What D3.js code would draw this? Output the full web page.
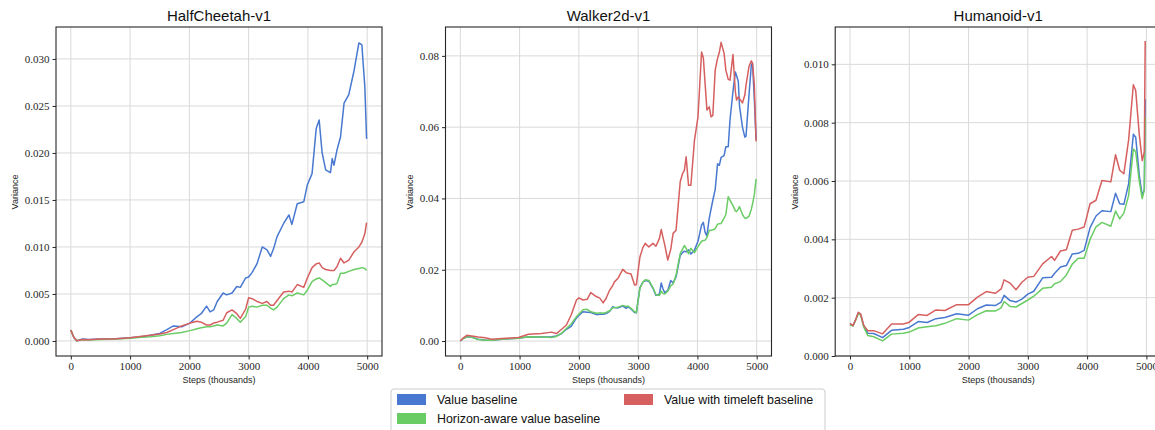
<!DOCTYPE html>
<html>
<head>
<meta charset="utf-8">
<script src="https://cdn.jsdelivr.net/npm/d3@7"></script>
<style>
  html, body { margin: 0; padding: 0; background: #fff; }
  svg { display: block; }
</style>
</head>
<body>
<svg id="chart" width="1155" height="430"></svg>
<script>
// ---------------- DATA ----------------
const seriesNames = ["Value baseline", "Horizon-aware value baseline", "Value with timeleft baseline"];
const seriesColors = ["#4878d0", "#6acc64", "#d65f5f"];
const panelTitles = ["HalfCheetah-v1", "Walker2d-v1", "Humanoid-v1"];
const xTicks = [0, 1000, 2000, 3000, 4000, 5000];
const xLabel = "Steps (thousands)";
const yLabel = "Variance";

// HalfCheetah-v1
const hcSteps = [0, 50, 100, 200, 300, 500, 700, 1000, 1200, 1340, 1500, 1620, 1730, 1870, 2010, 2130, 2200, 2290, 2350, 2410, 2470, 2570, 2630, 2720, 2800, 2860, 2950, 3000, 3060, 3140, 3230, 3310, 3370, 3420, 3480, 3590, 3680, 3730, 3820, 3930, 3990, 4070, 4140, 4190, 4240, 4300, 4380, 4410, 4440, 4490, 4550, 4610, 4690, 4780, 4860, 4910, 4960, 4990];
const hcValue = [0.00115, 0.0004, 0.00002, 0.0002, 0.00015, 0.0002, 0.00022, 0.00035, 0.00045, 0.0006, 0.0008, 0.0012, 0.0016, 0.0015, 0.0019, 0.0026, 0.0029, 0.0037, 0.0031, 0.0033, 0.0042, 0.0051, 0.0049, 0.0051, 0.0058, 0.0057, 0.0067, 0.0068, 0.0073, 0.0082, 0.0100, 0.0097, 0.0090, 0.0098, 0.0111, 0.0125, 0.0134, 0.0124, 0.0146, 0.0148, 0.0166, 0.0178, 0.0226, 0.0235, 0.0200, 0.0182, 0.0179, 0.0194, 0.0187, 0.0203, 0.0217, 0.0253, 0.0262, 0.0288, 0.0317, 0.0315, 0.0271, 0.0215];
const hcHorizon = [0.00115, 0.0004, 0.00002, 0.00012, 0.0001, 0.00015, 0.00018, 0.0003, 0.0004, 0.00045, 0.00055, 0.0007, 0.0008, 0.0009, 0.0011, 0.0013, 0.0014, 0.0015, 0.0015, 0.0016, 0.0017, 0.0016, 0.0019, 0.0028, 0.0024, 0.0020, 0.0026, 0.0036, 0.0037, 0.0036, 0.0038, 0.0038, 0.0035, 0.0033, 0.0036, 0.0045, 0.0049, 0.0048, 0.0051, 0.0049, 0.0054, 0.0063, 0.0066, 0.0067, 0.0065, 0.0062, 0.0058, 0.0060, 0.0060, 0.0061, 0.0072, 0.0072, 0.0074, 0.0076, 0.0077, 0.0078, 0.0077, 0.0075];
const hcTimeleft = [0.00115, 0.0004, 0.00002, 0.00015, 0.00012, 0.0002, 0.0002, 0.00033, 0.0005, 0.0006, 0.00075, 0.0009, 0.0012, 0.0016, 0.0019, 0.0021, 0.0020, 0.0017, 0.0017, 0.0019, 0.0020, 0.0022, 0.0030, 0.0033, 0.0029, 0.0024, 0.0034, 0.0046, 0.0045, 0.0042, 0.0040, 0.0042, 0.0038, 0.0038, 0.0043, 0.0052, 0.0053, 0.0052, 0.0060, 0.0057, 0.0067, 0.0078, 0.0082, 0.0083, 0.0078, 0.0076, 0.0075, 0.0075, 0.0075, 0.0079, 0.0088, 0.0083, 0.0086, 0.0095, 0.0100, 0.0105, 0.0114, 0.0126];
const hcYTicks = [0, 0.005, 0.010, 0.015, 0.020, 0.025, 0.030];

// Walker2d-v1
const wkSteps = [0, 50, 110, 190, 300, 420, 530, 700, 980, 1150, 1370, 1540, 1620, 1710, 1790, 1870, 1960, 2000, 2070, 2140, 2200, 2300, 2350, 2410, 2460, 2520, 2570, 2600, 2660, 2740, 2800, 2830, 2880, 2940, 2970, 3030, 3080, 3120, 3180, 3250, 3300, 3360, 3390, 3420, 3450, 3500, 3550, 3590, 3640, 3710, 3750, 3780, 3810, 3850, 3890, 3950, 4010, 4070, 4100, 4130, 4160, 4200, 4230, 4260, 4300, 4340, 4370, 4400, 4450, 4480, 4520, 4550, 4600, 4640, 4660, 4690, 4710, 4760, 4800, 4820, 4870, 4910, 4930, 4960, 4990];
const wkValue = [0, 0.0007, 0.0012, 0.0011, 0.0005, 0.0003, 0.0002, 0.0005, 0.0008, 0.0012, 0.0011, 0.0012, 0.0014, 0.0021, 0.0033, 0.0041, 0.0065, 0.0072, 0.0082, 0.0081, 0.0080, 0.0074, 0.0075, 0.0075, 0.0077, 0.0083, 0.0096, 0.0094, 0.0093, 0.0098, 0.0092, 0.0096, 0.0090, 0.0080, 0.0079, 0.0150, 0.0165, 0.0170, 0.0168, 0.0148, 0.0128, 0.0132, 0.0163, 0.0146, 0.0135, 0.0142, 0.0170, 0.0163, 0.0180, 0.0240, 0.0248, 0.0252, 0.0250, 0.0256, 0.0244, 0.0255, 0.0280, 0.0325, 0.0333, 0.0305, 0.0295, 0.0345, 0.0370, 0.0395, 0.0425, 0.0497, 0.0493, 0.0515, 0.0520, 0.0545, 0.0545, 0.0620, 0.0700, 0.0755, 0.0745, 0.0728, 0.0660, 0.0600, 0.0572, 0.0575, 0.0690, 0.0775, 0.0779, 0.0680, 0.0565];
const wkHorizon = [0, 0.0007, 0.0011, 0.0011, 0.0004, 0.0002, 0.0002, 0.0005, 0.0008, 0.0012, 0.0011, 0.0010, 0.0013, 0.0022, 0.0035, 0.0048, 0.0068, 0.0075, 0.0088, 0.0089, 0.0082, 0.0078, 0.0079, 0.0078, 0.0080, 0.0085, 0.0093, 0.0094, 0.0095, 0.0100, 0.0097, 0.0098, 0.0092, 0.0082, 0.0080, 0.0148, 0.0165, 0.0172, 0.0170, 0.0150, 0.0130, 0.0128, 0.0140, 0.0133, 0.0132, 0.0140, 0.0155, 0.0160, 0.0185, 0.0245, 0.0258, 0.0268, 0.0260, 0.0245, 0.0260, 0.0248, 0.0265, 0.0280, 0.0282, 0.0283, 0.0290, 0.0310, 0.0311, 0.0312, 0.0315, 0.0328, 0.0329, 0.0330, 0.0345, 0.0355, 0.0405, 0.0395, 0.0380, 0.0365, 0.0363, 0.0370, 0.0377, 0.0355, 0.0345, 0.0344, 0.0350, 0.0370, 0.0385, 0.0410, 0.0455];
const wkTimeleft = [0, 0.0009, 0.0016, 0.0014, 0.0011, 0.0009, 0.0005, 0.0007, 0.0010, 0.0019, 0.0021, 0.0025, 0.0021, 0.0033, 0.0045, 0.0073, 0.0115, 0.0121, 0.0115, 0.0117, 0.0136, 0.0124, 0.0121, 0.0107, 0.0120, 0.0143, 0.0155, 0.0166, 0.0176, 0.0201, 0.0192, 0.0190, 0.0188, 0.0157, 0.0158, 0.0236, 0.0262, 0.0274, 0.0264, 0.0274, 0.0266, 0.0288, 0.0313, 0.0290, 0.0269, 0.0227, 0.0257, 0.0302, 0.0311, 0.0447, 0.0470, 0.0479, 0.0517, 0.0437, 0.0437, 0.0563, 0.0629, 0.0811, 0.0795, 0.0722, 0.0648, 0.0657, 0.0629, 0.0633, 0.0760, 0.0793, 0.0810, 0.0838, 0.0807, 0.0760, 0.0734, 0.0732, 0.0804, 0.0700, 0.0676, 0.0685, 0.0680, 0.0668, 0.0690, 0.0718, 0.0770, 0.0786, 0.0779, 0.0720, 0.0560];
const wkYTicks = [0, 0.02, 0.04, 0.06, 0.08];

// Humanoid-v1
const huSteps = [0, 50, 100, 140, 180, 230, 300, 400, 550, 700, 900, 1000, 1150, 1300, 1450, 1600, 1800, 2000, 2150, 2300, 2450, 2550, 2600, 2700, 2800, 2900, 3000, 3100, 3250, 3400, 3450, 3550, 3650, 3750, 3850, 3950, 4050, 4150, 4250, 4400, 4480, 4550, 4620, 4700, 4780, 4820, 4880, 4930, 4965, 4980];
const huValue = [0.00108, 0.00104, 0.00127, 0.00148, 0.00142, 0.00105, 0.00078, 0.00077, 0.00063, 0.00088, 0.00092, 0.00098, 0.00118, 0.00115, 0.00128, 0.00132, 0.00145, 0.00140, 0.00162, 0.00175, 0.00173, 0.00185, 0.00208, 0.00190, 0.00185, 0.00195, 0.00212, 0.00222, 0.00268, 0.00270, 0.00283, 0.00305, 0.00310, 0.00350, 0.00352, 0.00362, 0.00440, 0.00480, 0.00498, 0.00495, 0.00558, 0.00522, 0.00520, 0.00590, 0.00760, 0.00750, 0.00620, 0.00550, 0.00570, 0.00880];
const huHorizon = [0.00108, 0.00103, 0.00125, 0.00145, 0.00140, 0.00100, 0.00070, 0.00066, 0.00052, 0.00075, 0.00078, 0.00082, 0.00096, 0.00100, 0.00104, 0.00112, 0.00128, 0.00123, 0.00142, 0.00155, 0.00154, 0.00165, 0.00187, 0.00170, 0.00168, 0.00180, 0.00192, 0.00205, 0.00232, 0.00236, 0.00248, 0.00255, 0.00278, 0.00315, 0.00335, 0.00335, 0.00400, 0.00443, 0.00458, 0.00445, 0.00497, 0.00470, 0.00490, 0.00550, 0.00710, 0.00700, 0.00600, 0.00540, 0.00570, 0.00820];
const huTimeleft = [0.00112, 0.00104, 0.00127, 0.00150, 0.00144, 0.00105, 0.00087, 0.00087, 0.00076, 0.00110, 0.00110, 0.00116, 0.00142, 0.00139, 0.00158, 0.00156, 0.00176, 0.00176, 0.00202, 0.00221, 0.00215, 0.00230, 0.00261, 0.00250, 0.00227, 0.00253, 0.00270, 0.00273, 0.00316, 0.00341, 0.00328, 0.00360, 0.00364, 0.00431, 0.00435, 0.00442, 0.00522, 0.00534, 0.00602, 0.00597, 0.00690, 0.00637, 0.00625, 0.00740, 0.00930, 0.00910, 0.00760, 0.00670, 0.00700, 0.01080];
const huYTicks = [0, 0.002, 0.004, 0.006, 0.008, 0.010];

// ---------------- LAYOUT ----------------
const panels = [
  { title: panelTitles[0], steps: hcSteps, series: [hcValue, hcHorizon, hcTimeleft], yDomain: [-0.0016, 0.0334], yTicks: hcYTicks, fmt: d3.format(".3f"), left: 56, ylabX: 15 },
  { title: panelTitles[1], steps: wkSteps, series: [wkValue, wkHorizon, wkTimeleft], yDomain: [-0.0042, 0.0881], yTicks: wkYTicks, fmt: d3.format(".2f"), left: 445.5, ylabX: 410 },
  { title: panelTitles[2], steps: huSteps, series: [huValue, huHorizon, huTimeleft], yDomain: [0, 0.01128], yTicks: huYTicks, fmt: d3.format(".3f"), left: 835.2, ylabX: 795 }
];
const plotW = 326, plotTop = 27, plotBottom = 356;

const svg = d3.select("#chart");
svg.append("rect").attr("width", 1155).attr("height", 430).attr("fill", "#fff");

const sans = "'Liberation Sans', Arial, sans-serif";
const serif = "'Liberation Serif', 'Times New Roman', serif";

panels.forEach(p => {
  const x = d3.scaleLinear().domain([-250, 5250]).range([p.left, p.left + plotW]);
  const y = d3.scaleLinear().domain(p.yDomain).range([plotBottom, plotTop]);
  const g = svg.append("g");

  // grid
  g.append("g").selectAll("line").data(xTicks).join("line")
    .attr("x1", d => x(d)).attr("x2", d => x(d)).attr("y1", plotTop).attr("y2", plotBottom)
    .attr("stroke", "#d9d9d9").attr("stroke-width", 1);
  g.append("g").selectAll("line").data(p.yTicks).join("line")
    .attr("x1", p.left).attr("x2", p.left + plotW).attr("y1", d => y(d)).attr("y2", d => y(d))
    .attr("stroke", "#d9d9d9").attr("stroke-width", 1);

  // axes
  const xAxis = d3.axisBottom(x).tickValues(xTicks).tickFormat(d3.format("d")).tickSize(3.5).tickPadding(2.5);
  const yAxis = d3.axisLeft(y).tickValues(p.yTicks).tickFormat(p.fmt).tickSize(3.5).tickPadding(3);
  const gx = g.append("g").attr("transform", `translate(0,${plotBottom})`).call(xAxis);
  const gy = g.append("g").attr("transform", `translate(${p.left},0)`).call(yAxis);
  [gx, gy].forEach(a => {
    a.select(".domain").remove();
    a.selectAll(".tick line").attr("stroke", "#262626").attr("stroke-width", 1);
    a.selectAll(".tick text").attr("font-family", serif).attr("font-size", 11).attr("fill", "#262626");
  });

  // lines
  const line = d3.line().x((d, i) => x(p.steps[i])).y(d => y(d));
  p.series.forEach((s, k) => {
    g.append("path").datum(s).attr("d", line)
      .attr("fill", "none").attr("stroke", seriesColors[k]).attr("stroke-width", 1.5)
      .attr("stroke-linejoin", "round");
  });

  // frame
  g.append("rect").attr("x", p.left).attr("y", plotTop).attr("width", plotW).attr("height", plotBottom - plotTop)
    .attr("fill", "none").attr("stroke", "#262626").attr("stroke-width", 1.1);

  // title
  g.append("text").attr("x", p.left + plotW / 2).attr("y", 21).attr("text-anchor", "middle")
    .attr("font-family", sans).attr("font-size", 15).attr("fill", "#111").text(p.title);

  // axis labels
  g.append("text").attr("x", p.left + plotW / 2).attr("y", 383).attr("text-anchor", "middle")
    .attr("font-family", sans).attr("font-size", 9).attr("fill", "#262626").text(xLabel);
  g.append("text").attr("transform", `translate(${p.ylabX + 3},192) rotate(-90)`).attr("text-anchor", "middle")
    .attr("font-family", sans).attr("font-size", 9).attr("fill", "#262626").text(yLabel);
});

// legend
const leg = svg.append("g");
leg.append("rect").attr("x", 391).attr("y", 389).attr("width", 434).attr("height", 50).attr("rx", 3)
  .attr("fill", "#fff").attr("stroke", "#cccccc").attr("stroke-width", 1);
const legPos = [[397, 394], [397, 413], [624, 394]];
seriesNames.forEach((name, k) => {
  const [lx, ly] = legPos[k];
  leg.append("rect").attr("x", lx).attr("y", ly).attr("width", 29).attr("height", 11).attr("fill", seriesColors[k]);
  leg.append("text").attr("x", lx + 40).attr("y", ly + 10).attr("font-family", sans).attr("font-size", 12.4)
    .attr("fill", "#111").text(name);
});
</script>
</body>
</html>
